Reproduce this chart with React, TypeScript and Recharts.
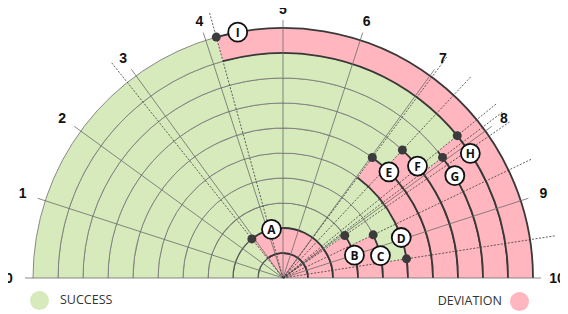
import {
  RadialBarChart,
  RadialBar,
  PolarAngleAxis,
  PolarRadiusAxis,
  Sector,
  LabelList,
} from "recharts"

// rings from the centre outwards, and where the deviation starts on each (0..10 scale)
const rings = [1, 2, 3, 4, 5, 6, 7, 8, 9, 10]
const deviationStart = [2.86, 2.86, 8.08, 8.58, 9.51, 7.03, 7.39, 7.94, 7.82, 4.14]
const pointLabels = ["", "A", "B", "C", "D", "E", "F", "G", "H", "I"]
const angleTicks = [0, 1, 2, 3, 4, 5, 6, 7, 8, 9, 10]
const SCALE_MAX = 10

const data = rings.map((ring, i) => ({
  ring,
  success: deviationStart[i],
  deviation: SCALE_MAX - deviationStart[i],
  label: pointLabels[i],
}))

const W = 568
const H = 314
const CX = 283
const CY = 278
const OUTER = 250
const RAD = Math.PI / 180
const GREEN = "#d6eabc"
const PINK = "#ffb6be"

function pt(cx: number, cy: number, r: number, angle: number) {
  return { x: cx + r * Math.cos(-angle * RAD), y: cy + r * Math.sin(-angle * RAD) }
}

function arcPath(cx: number, cy: number, r: number, a1: number, a2: number) {
  const hi = Math.max(a1, a2)
  const lo = Math.min(a1, a2)
  const p1 = pt(cx, cy, r, hi)
  const p2 = pt(cx, cy, r, lo)
  return `M${p1.x},${p1.y} A${r},${r} 0 ${hi - lo > 180 ? 1 : 0} 1 ${p2.x},${p2.y}`
}

function ringShape(props: any, dark: boolean) {
  const { cx, cy, innerRadius, outerRadius, startAngle, endAngle, fill, payload } = props
  if (Math.abs(endAngle - startAngle) < 0.01) return <g />
  const inner = payload && payload.ring <= 3
  const stroke = dark ? "#383838" : inner ? "#595959" : "#7d7d7d"
  const width = dark ? 1.8 : inner ? 1.2 : 0.9
  return (
    <g>
      <Sector
        cx={cx}
        cy={cy}
        innerRadius={innerRadius}
        outerRadius={outerRadius}
        startAngle={startAngle}
        endAngle={endAngle}
        fill={fill}
        stroke="none"
      />
      {innerRadius > 0 && (
        <path d={arcPath(cx, cy, innerRadius, startAngle, endAngle)} fill="none" stroke={stroke} strokeWidth={width} />
      )}
      <path d={arcPath(cx, cy, outerRadius, startAngle, endAngle)} fill="none" stroke={stroke} strokeWidth={width} />
    </g>
  )
}

const GreenShape = (props: any) => ringShape(props, false)
const PinkShape = (props: any) => ringShape(props, true)

function SpokeTick(props: any) {
  const { payload } = props
  const a = payload.coordinate
  const end = pt(CX, CY, OUTER + 8, a)
  const c = Math.abs(Math.cos(a * RAD))
  const lp = pt(CX, CY, OUTER + 19 + 5 * c, a)
  return (
    <g>
      <line x1={CX} y1={CY} x2={end.x} y2={end.y} stroke="#6b6b6b" strokeWidth={0.8} />
      <text
        x={lp.x}
        y={lp.y}
        textAnchor="middle"
        dominantBaseline="central"
        fontSize={14}
        fontWeight="bold"
        fontFamily="'Liberation Sans', Arial, sans-serif"
        fill="#111"
      >
        {payload.value}
      </text>
    </g>
  )
}

function boundaryAngle(vb: any) {
  return Math.max(vb.startAngle, vb.endAngle)
}

function MarkerLine(props: any) {
  const { viewBox, value } = props
  if (!value || !viewBox) return null
  const a = boundaryAngle(viewBox)
  const end = pt(viewBox.cx, viewBox.cy, 275, a)
  return (
    <line
      x1={viewBox.cx}
      y1={viewBox.cy}
      x2={end.x}
      y2={end.y}
      stroke="#3a3a3a"
      strokeWidth={0.8}
      strokeDasharray="2 1.5"
    />
  )
}

function MarkerPoint(props: any) {
  const { viewBox, value } = props
  if (!value || !viewBox) return null
  const { cx, cy, outerRadius } = viewBox
  const a = boundaryAngle(viewBox)
  const p = pt(cx, cy, outerRadius, a)
  const shift = 22 / outerRadius / RAD
  let la = a - shift
  if (la < 6) la = a + shift
  const lp = pt(cx, cy, outerRadius, la)
  return (
    <g>
      <circle cx={p.x} cy={p.y} r={4.5} fill="#3b3b3b" />
      <circle cx={lp.x} cy={lp.y} r={9.5} fill="#fff" stroke="#111" strokeWidth={1.8} />
      <text
        x={lp.x}
        y={lp.y + 0.5}
        textAnchor="middle"
        dominantBaseline="central"
        fontSize={12}
        fontWeight="bold"
        fontFamily="'Open Sans', sans-serif"
        fill="#111"
      >
        {value}
      </text>
    </g>
  )
}

export default function App() {
  return (
    <div
      style={{
        position: "relative",
        width: W,
        height: H,
        margin: "-8px 0 0 -8px",
        fontFamily: "'Open Sans', sans-serif",
      }}
    >
      <RadialBarChart
        width={W}
        height={H}
        data={data}
        cx={CX}
        cy={CY}
        innerRadius={0}
        outerRadius={OUTER}
        startAngle={180}
        endAngle={0}
        barCategoryGap={0}
        margin={{ top: 0, right: 0, bottom: 0, left: 0 }}
      >
        <PolarAngleAxis
          type="number"
          domain={[0, SCALE_MAX]}
          ticks={angleTicks}
          tick={SpokeTick}
          axisLine={false}
          tickLine={false}
        />
        <PolarRadiusAxis type="category" dataKey="ring" tick={false} axisLine={false} />
        <RadialBar dataKey="success" stackId="s" fill={GREEN} shape={GreenShape} isAnimationActive={false} />
        <RadialBar dataKey="deviation" stackId="s" fill={PINK} shape={PinkShape} isAnimationActive={false}>
          <LabelList dataKey="label" content={MarkerLine} />
          <LabelList dataKey="label" content={MarkerPoint} />
        </RadialBar>
      </RadialBarChart>
      <div
        style={{
          position: "absolute",
          left: 29.5,
          top: 290.5,
          width: 19,
          height: 19,
          borderRadius: "50%",
          background: GREEN,
        }}
      />
      <div style={{ position: "absolute", left: 60, top: 292, lineHeight: "16px", fontSize: 12.5, color: "#333" }}>
        SUCCESS
      </div>
      <div
        style={{
          position: "absolute",
          right: W - 502,
          top: 293,
          lineHeight: "16px",
          fontSize: 12.5,
          color: "#333",
        }}
      >
        DEVIATION
      </div>
      <div
        style={{
          position: "absolute",
          left: 509.5,
          top: 291.5,
          width: 19,
          height: 19,
          borderRadius: "50%",
          background: PINK,
        }}
      />
    </div>
  )
}
